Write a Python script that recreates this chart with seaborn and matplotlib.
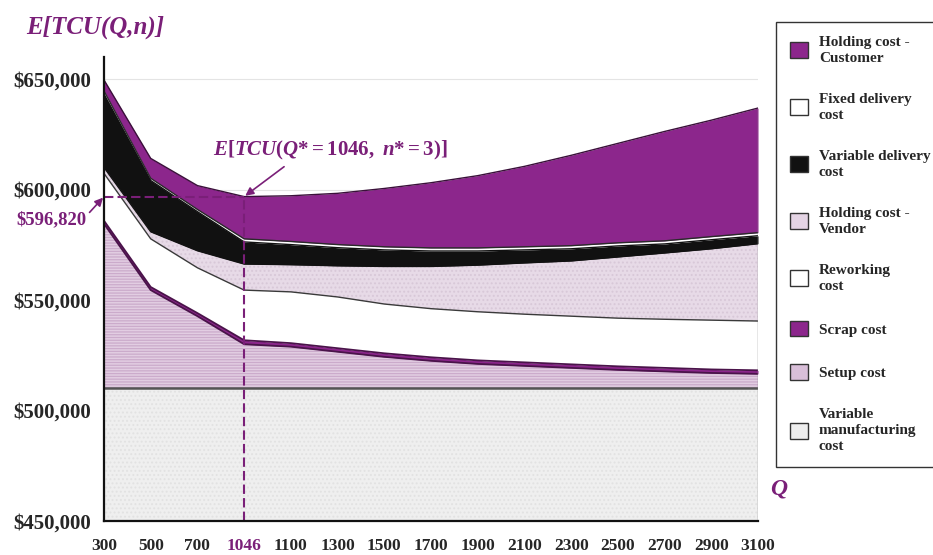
import numpy as np
import pandas as pd
import matplotlib
matplotlib.use("Agg")
import matplotlib.pyplot as plt
from matplotlib.patches import Patch
from matplotlib.ticker import FuncFormatter
import seaborn as sns

# ---------------- data ----------------
q_labels = ["300", "500", "700", "1046", "1100", "1300", "1500", "1700",
            "1900", "2100", "2300", "2500", "2700", "2900", "3100"]
variable_manufacturing = [510000, 510000, 510000, 510000, 510000, 510000, 510000, 510000,
                          510000, 510000, 510000, 510000, 510000, 510000, 510000]
setup_cost = [74500, 44500, 32700, 20000, 18900, 16600, 14300, 12500,
              11100, 10200, 9300, 8400, 7700, 7000, 6600]
scrap_cost = [1400, 1400, 1400, 1800, 1600, 1600, 1600, 1600,
              1600, 1600, 1600, 1600, 1600, 1600, 1600]
reworking_cost = [21400, 21800, 20500, 22700, 23200, 23200, 22300, 22000,
                  22000, 21800, 21800, 21800, 22000, 22300, 22300]
holding_vendor = [2700, 3200, 7700, 11800, 12300, 14100, 17000, 19100,
                  21100, 23200, 25000, 27700, 30000, 32300, 35000]
variable_delivery = [33200, 23200, 17700, 10000, 9100, 8200, 7500, 7000,
                     6400, 5900, 5500, 5000, 4100, 4100, 3600]
fixed_delivery = [1400, 1000, 1000, 1400, 1400, 1400, 1400, 1400,
                  1400, 1400, 1400, 1400, 1400, 1400, 1400]
holding_customer = [5000, 9000, 10800, 19120, 20700, 23200, 26400, 29500,
                    32700, 36400, 40900, 45000, 49500, 52700, 56400]

legend_labels = ["Holding cost -\nCustomer", "Fixed delivery\ncost", "Variable delivery\ncost",
                 "Holding cost -\nVendor", "Reworking\ncost", "Scrap cost", "Setup cost",
                 "Variable\nmanufacturing\ncost"]
optimum_q = "1046"
y_floor, y_ceil = 450000, 660000

# ---------------- style ----------------
sns.set_style("white")
plt.rcParams['font.family'] = ['Liberation Serif', 'DejaVu Serif']
plt.rcParams['font.weight'] = 'bold'
plt.rcParams['mathtext.fontset'] = 'custom'
plt.rcParams['mathtext.rm'] = 'Liberation Serif:bold'
plt.rcParams['mathtext.it'] = 'Liberation Serif:italic:bold'
plt.rcParams['mathtext.bf'] = 'Liberation Serif:bold'
plt.rcParams['hatch.linewidth'] = 0.9

PURPLE = '#8C268C'
TEXT_PURPLE = '#7A1F78'

df = pd.DataFrame({
    "Q": q_labels,
    "Variable manufacturing cost": variable_manufacturing,
    "Setup cost": setup_cost,
    "Scrap cost": scrap_cost,
    "Reworking cost": reworking_cost,
    "Holding cost - Vendor": holding_vendor,
    "Variable delivery cost": variable_delivery,
    "Fixed delivery cost": fixed_delivery,
    "Holding cost - Customer": holding_customer,
})
df["pos"] = np.arange(len(df))

layers = ["Variable manufacturing cost", "Setup cost", "Scrap cost", "Reworking cost",
          "Holding cost - Vendor", "Variable delivery cost", "Fixed delivery cost",
          "Holding cost - Customer"]
faces = ['#EFEFEF', '#E2CDE2', PURPLE, '#FFFFFF', '#E7DAE7', '#111111', '#FFFFFF', PURPLE]
hatches = ['....', '------', None, None, '....', None, None, None]
hatch_cols = ['#E2E2E2', '#CBABCB', None, None, '#D8C8D8', None, None, None]
line_cols = ['#555555', '#4A134A', '#4A134A', '#3A3A3A', '#111111', '#111111', '#2A2A2A', '#3A103A']
line_w = [1.8, 1.3, 1.3, 1.0, 1.0, 1.0, 1.0, 1.0]

fig = plt.figure(figsize=(9.33, 5.55), dpi=100)
ax = fig.add_axes([104 / 933, 34 / 555, 654 / 933, 464 / 555])
ax.yaxis.grid(True, color='#E4E4E4', lw=0.8, zorder=0)
ax.set_axisbelow(True)

x = df["pos"].to_numpy()
lower = np.full(len(df), y_floor, dtype=float)
cum = np.zeros(len(df))
for i, name in enumerate(layers):
    cum = cum + df[name].to_numpy(dtype=float)
    upper = cum.copy()
    if hatches[i]:
        ax.fill_between(x, lower, upper, facecolor=faces[i], edgecolor=hatch_cols[i],
                        hatch=hatches[i], linewidth=0, zorder=2)
    else:
        ax.fill_between(x, lower, upper, facecolor=faces[i], linewidth=0, zorder=2)
    sns.lineplot(x=x, y=upper, ax=ax, color=line_cols[i], lw=line_w[i], zorder=3)
    lower = upper

total = cum
ax.vlines(x[-1], y_floor, total[-1], color='#888888', lw=1.0, zorder=3)

# optimum markers
io = q_labels.index(optimum_q)
ax.plot([x[0], x[io]], [total[io], total[io]], color=TEXT_PURPLE, lw=1.5,
        dashes=(4.5, 2), zorder=5)
ax.plot([x[io], x[io]], [y_floor, total[io]], color=TEXT_PURPLE, lw=1.5,
        dashes=(4.5, 2), zorder=5)

ax.set_xlim(x[0], x[-1])
ax.set_ylim(y_floor, y_ceil)
ax.set_xticks(x)
ax.set_xticklabels(q_labels)
ax.set_yticks(np.arange(450000, 650001, 50000))
ax.yaxis.set_major_formatter(FuncFormatter(lambda v, p: f"${v:,.0f}"))
for s in ['top', 'right']:
    ax.spines[s].set_visible(False)
for s in ['left', 'bottom']:
    ax.spines[s].set_color('#111111')
    ax.spines[s].set_linewidth(1.6)
    ax.spines[s].set_zorder(6)
ax.tick_params(axis='both', direction='out', length=6, width=1.3, color='#111111')
ax.tick_params(axis='y', labelsize=15, pad=3)
ax.tick_params(axis='x', labelsize=12.5, pad=6)
for lab in ax.get_yticklabels() + ax.get_xticklabels():
    lab.set_fontweight('bold')
ax.get_xticklabels()[io].set_color(TEXT_PURPLE)
ax.set_xlabel("")
ax.set_ylabel("")

# texts
fig.text(26 / 933, 1 - 27 / 555, "E[TCU(Q,n)]", fontsize=18, fontweight='bold',
         fontstyle='italic', color=TEXT_PURPLE, ha='left', va='center')
ax.text(1.032, 0.069, "Q", transform=ax.transAxes, fontsize=17, fontweight='bold',
        fontstyle='italic', color=TEXT_PURPLE, ha='center', va='center')

ax.annotate(f"${total[io]:,.0f}", xy=(x[0], total[io]), xytext=(-0.38, 586500),
            fontsize=13.5, fontweight='bold', color=TEXT_PURPLE, ha='right', va='center',
            annotation_clip=False,
            arrowprops=dict(arrowstyle='-|>', color=TEXT_PURPLE, lw=1.2,
                            mutation_scale=12, shrinkA=0, shrinkB=1, relpos=(1.0, 0.7)))

ax.annotate(r"$E[TCU(Q{*} = 1046,\ n{*} = 3)]$", xy=(x[io], total[io]),
            xytext=(4.85, 617800), fontsize=15, color=TEXT_PURPLE, ha='center', va='center',
            annotation_clip=False,
            arrowprops=dict(arrowstyle='-|>', color=TEXT_PURPLE, lw=1.2,
                            mutation_scale=12, shrinkA=2, shrinkB=1, relpos=(0.33, 0.0)))

# legend
leg_faces = [PURPLE, '#FFFFFF', '#111111', '#E4D4E4', '#FFFFFF', PURPLE, '#D9BFD9', '#EEEEEE']
handles = [Patch(facecolor=f, edgecolor='#333333', linewidth=1.0) for f in leg_faces]
leg = fig.legend(handles, legend_labels, loc='upper left',
                 bbox_to_anchor=(776 / 933, 1 - 22 / 555), bbox_transform=fig.transFigure,
                 frameon=True, fancybox=False, edgecolor='#333333', framealpha=1,
                 prop={'size': 11, 'weight': 'bold'}, handlelength=1.2, handleheight=1.2,
                 handletextpad=0.7, borderpad=0.9, labelspacing=1.83, borderaxespad=0)
for t in leg.get_texts():
    t.set_linespacing(1.3)
leg.get_frame().set_linewidth(1.0)

fig.savefig("out.png", dpi=100)
